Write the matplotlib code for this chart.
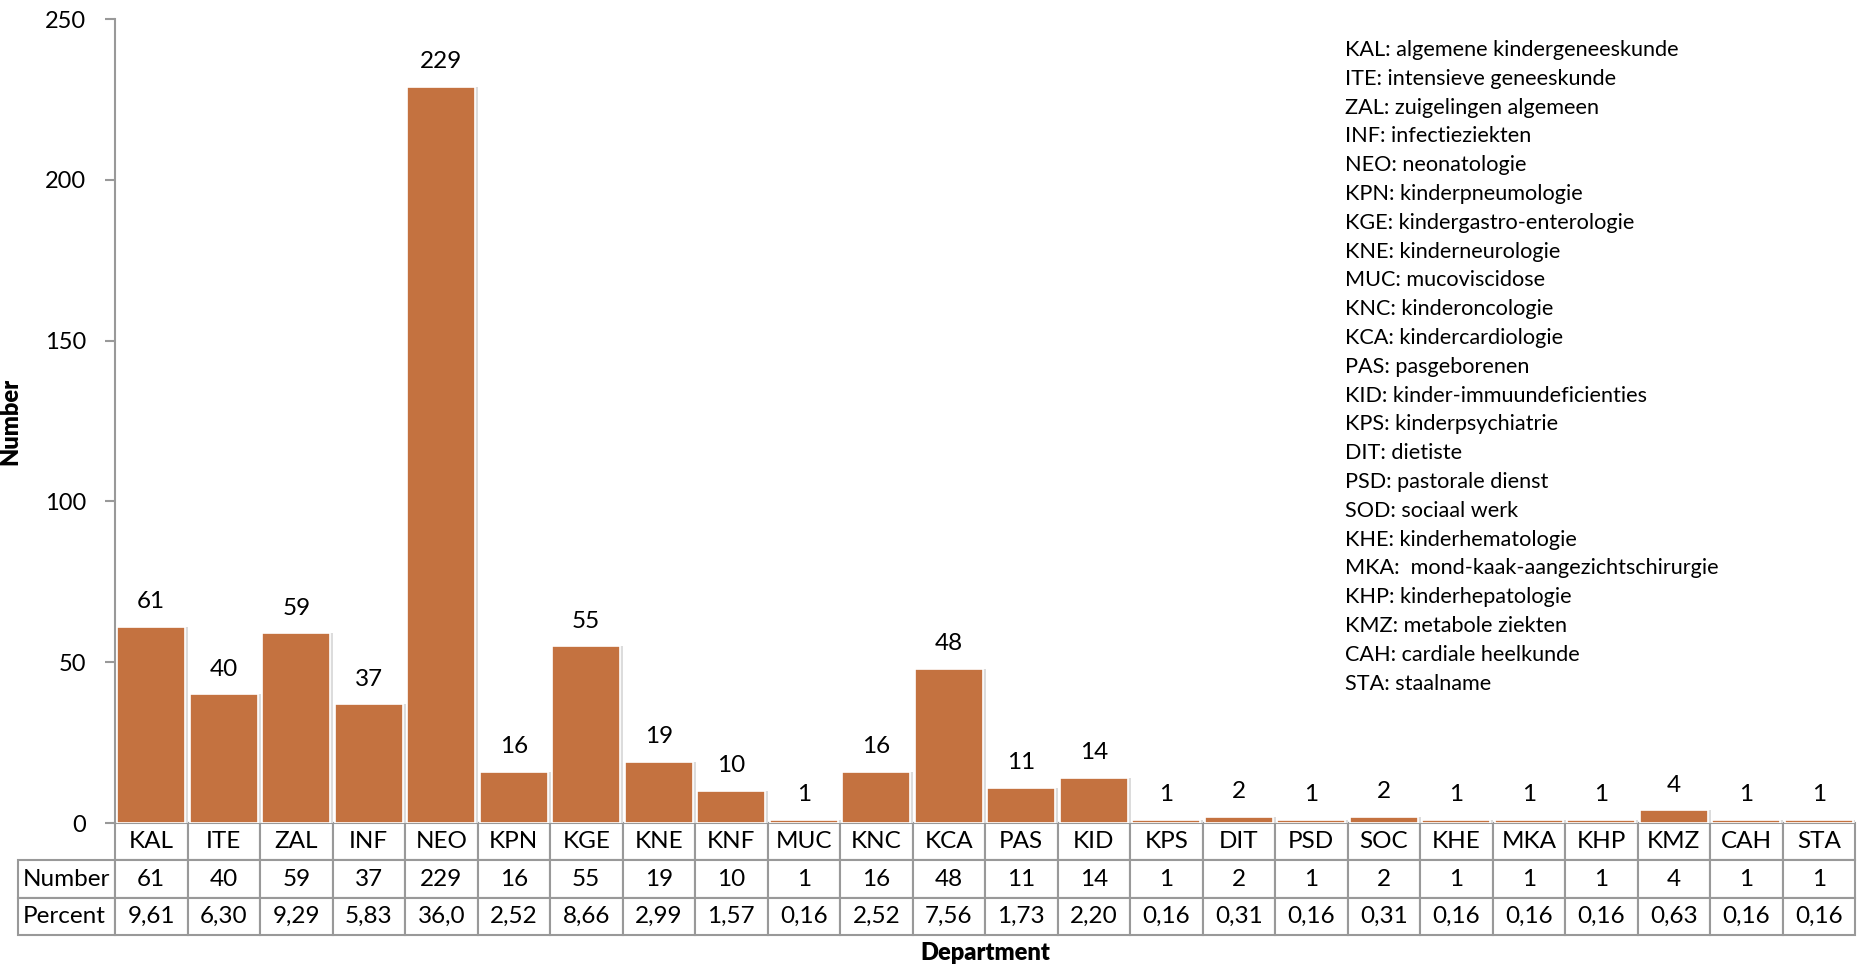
import matplotlib
matplotlib.use("Agg")
import matplotlib.pyplot as plt
from matplotlib.table import Table
import numpy as np

plt.rcParams['font.family'] = ['Lato', 'DejaVu Sans']

departments = ["KAL", "ITE", "ZAL", "INF", "NEO", "KPN", "KGE", "KNE", "KNF", "MUC",
               "KNC", "KCA", "PAS", "KID", "KPS", "DIT", "PSD", "SOC", "KHE", "MKA",
               "KHP", "KMZ", "CAH", "STA"]
counts = [61, 40, 59, 37, 229, 16, 55, 19, 10, 1,
          16, 48, 11, 14, 1, 2, 1, 2, 1, 1,
          1, 4, 1, 1]
percents = ["9,61", "6,30", "9,29", "5,83", "36,0", "2,52", "8,66", "2,99", "1,57", "0,16",
            "2,52", "7,56", "1,73", "2,20", "0,16", "0,31", "0,16", "0,31", "0,16", "0,16",
            "0,16", "0,63", "0,16", "0,16"]
glossary = [
    "KAL: algemene kindergeneeskunde",
    "ITE: intensieve geneeskunde",
    "ZAL: zuigelingen algemeen",
    "INF: infectieziekten",
    "NEO: neonatologie",
    "KPN: kinderpneumologie",
    "KGE: kindergastro-enterologie",
    "KNE: kinderneurologie",
    "MUC: mucoviscidose",
    "KNC: kinderoncologie",
    "KCA: kindercardiologie",
    "PAS: pasgeborenen",
    "KID: kinder-immuundeficienties",
    "KPS: kinderpsychiatrie",
    "DIT: dietiste",
    "PSD: pastorale dienst",
    "SOD: sociaal werk",
    "KHE: kinderhematologie",
    "MKA:  mond-kaak-aangezichtschirurgie",
    "KHP: kinderhepatologie",
    "KMZ: metabole ziekten",
    "CAH: cardiale heelkunde",
    "STA: staalname",
]

bar_color = "#C47240"
grid_gray = "#999999"

W, H = 1859, 966
fig = plt.figure(figsize=(W / 100, H / 100), dpi=100)
ax = fig.add_axes([115 / W, 1 - 823 / H, 1740 / W, 804 / H])

n = len(departments)
x = np.arange(n) + 0.5

# soft drop shadow behind the bars
ax.bar(x + 0.04, counts, width=0.94, color="#dcdcdc", zorder=1)
ax.bar(x, counts, width=0.94, color=bar_color, edgecolor="white", linewidth=1.2, zorder=2)

for xi, c in zip(x, counts):
    ax.annotate(str(c), (xi, c), xytext=(0, 18), textcoords="offset points",
                ha="center", va="center", fontsize=17.5, color="black")

ax.set_xlim(0, n)
ax.set_ylim(0, 250)
ax.set_yticks(np.arange(0, 251, 50))
ax.tick_params(axis="y", labelsize=17, length=7, width=1.5, color=grid_gray, pad=14)
ax.set_xticks([])
for s in ["top", "right", "bottom"]:
    ax.spines[s].set_visible(False)
ax.spines["left"].set_color(grid_gray)
ax.spines["left"].set_linewidth(1.5)

# data table under the bars
col_w = 1.0 / n
lab_w = 97 / 1740
tab = Table(ax, bbox=[-lab_w, -112 / 804, 1 + lab_w, 112 / 804])
rows = [("", departments), ("Number", [str(c) for c in counts]), ("Percent", percents)]
for r, (label, vals) in enumerate(rows):
    if label:
        cell = tab.add_cell(r, 0, width=lab_w, height=1, text=label, loc="left")
        cell.set_edgecolor(grid_gray)
        cell.set_linewidth(1.5)
    for j, v in enumerate(vals):
        cell = tab.add_cell(r, j + 1, width=col_w, height=1, text=v, loc="center")
        cell.set_edgecolor(grid_gray)
        cell.set_linewidth(1.5)
tab.auto_set_font_size(False)
tab.set_fontsize(17.5)
for (r, c), cell in tab.get_celld().items():
    cell.PAD = 0.05
ax.add_table(tab)

ax.set_ylabel("Number", fontsize=17, fontweight="heavy")
ax.yaxis.set_label_coords((21 - 115) / 1740, 0.5)
fig.text(985 / W, 1 - 953 / H, "Department", ha="center", va="center",
         fontsize=17, fontweight="heavy")

ax.text(1345 / W, 1 - 40 / H, "\n".join(glossary), transform=fig.transFigure,
        ha="left", va="top", fontsize=15.6, linespacing=1.55)

fig.savefig("out.png", dpi=100)
